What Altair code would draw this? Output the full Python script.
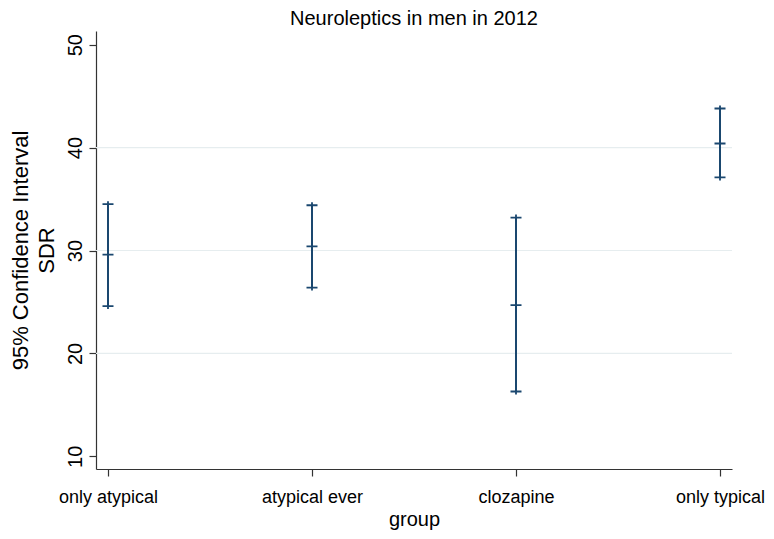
import altair as alt
import pandas as pd

groups = ["only atypical", "atypical ever", "clozapine", "only typical"]
lower = [24.6, 26.4, 16.3, 37.1]
mean = [29.6, 30.4, 24.7, 40.4]
upper = [34.5, 34.4, 33.2, 43.8]
y_ticks = [10, 20, 30, 40, 50]
grid_values = [20, 30, 40]

df = pd.DataFrame({"group": groups, "lower": lower, "mean": mean, "upper": upper})
pts = df.melt(id_vars="group", value_vars=["lower", "mean", "upper"],
              var_name="stat", value_name="value")
grid = pd.DataFrame({"g": grid_values})

FONT = "Liberation Sans"
BAR = "#1a476f"

yscale = alt.Scale(domain=[8.77, 51.33], nice=False, zero=False)
xscale = alt.Scale(type="point", padding=0.0588)

yaxis = alt.Axis(values=y_ticks, title=["95% Confidence Interval", "SDR"],
                 labelAngle=270, labelAlign="center", labelBaseline="alphabetic",
                 tickSize=7, labelPadding=8, labelFontSize=20,
                 titleFontSize=22, titleLineHeight=26, titlePadding=7,
                 titleFontWeight="normal", grid=False)
xaxis = alt.Axis(title="group", labelAngle=0, tickSize=7, labelPadding=12,
                 titlePadding=3, labelFontSize=18, titleFontSize=20,
                 titleFontWeight="normal", grid=False)

gridlayer = alt.Chart(grid).mark_rule(color="#e6edef", strokeWidth=1.2).encode(
    y=alt.Y("g:Q", scale=yscale, axis=yaxis)
)

rules = alt.Chart(df).mark_rule(color=BAR, strokeWidth=2).encode(
    x=alt.X("group:N", sort=groups, scale=xscale, axis=xaxis),
    y=alt.Y("lower:Q", scale=yscale, axis=yaxis),
    y2="upper:Q",
)

marks = alt.Chart(pts).mark_point(
    shape="M-1,0H1M0,-0.55V0.55", filled=False, strokeWidth=1.8, size=121,
    color=BAR, opacity=1
).encode(
    x=alt.X("group:N", sort=groups, scale=xscale, axis=xaxis),
    y=alt.Y("value:Q", scale=yscale, axis=yaxis),
)

chart = alt.layer(gridlayer, rules, marks).properties(
    width=636, height=438,
    background="white",
    title=alt.TitleParams("Neuroleptics in men in 2012", fontSize=20, font=FONT,
                          fontWeight="normal", color="black", anchor="middle",
                          offset=2),
    autosize=alt.AutoSizeParams(type="none"),
    padding={"left": 88, "top": 23, "right": 34, "bottom": 62},
).configure_axis(
    domainColor="#333333", tickColor="#333333", domainWidth=1.2,
    tickWidth=1.2, labelFont=FONT, titleFont=FONT, labelColor="black",
    titleColor="black",
).configure_view(strokeWidth=0)

chart.save("out.html", embed_options={"renderer": "svg", "actions": False})
